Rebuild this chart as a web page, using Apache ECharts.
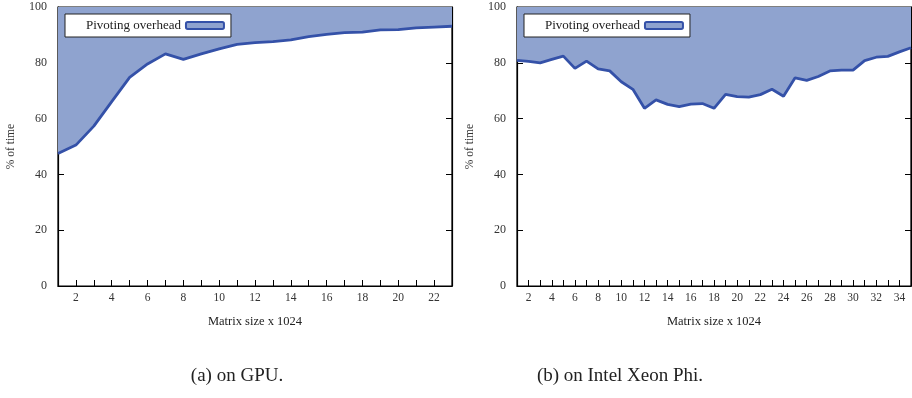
<!DOCTYPE html>
<html>
<head>
<meta charset="utf-8">
<script src="https://cdn.jsdelivr.net/npm/echarts@6/dist/echarts.min.js"></script>
<style>
  html, body { margin: 0; padding: 0; background: #fff; }
  #chart { width: 912px; height: 398px; }
</style>
</head>
<body>
<div id="chart"></div>
<script>
// matrix sizes (x 1024)
const gpuSizes = [1,2,3,4,5,6,7,8,9,10,11,12,13,14,15,16,17,18,19,20,21,22,23];
const gpuOverhead = [47.5,50.5,57.3,66.1,74.8,79.6,83.2,81.2,83.2,85.0,86.6,87.2,87.6,88.2,89.4,90.2,90.8,91.0,91.8,91.9,92.5,92.8,93.1];

const phiSizes = [1,2,3,4,5,6,7,8,9,10,11,12,13,14,15,16,17,18,19,20,21,22,23,24,25,26,27,28,29,30,31,32,33,34,35];
const phiOverhead = [80.9,80.5,80.0,81.2,82.4,78.0,80.6,77.8,77.1,73.2,70.5,63.7,66.7,65.1,64.3,65.2,65.4,63.7,68.7,67.9,67.7,68.6,70.5,68.0,74.6,73.7,75.1,77.1,77.4,77.4,80.8,82.0,82.3,83.9,85.4];

const yTicks = [0, 20, 40, 60, 80, 100];
const seriesName = 'Pivoting overhead';
const captions = ['(a) on GPU.', '(b) on Intel Xeon Phi.'];

const lineColor = '#3451a8';
const fillColor = '#8fa3cf';
const serif = 'Liberation Serif';

function pairs(xs, ys) { return xs.map((x, i) => [x, ys[i]]); }

function xAxisFor(idx, maxX) {
  return {
    type: 'value', gridIndex: idx, min: 1, max: maxX, interval: 1,
    name: 'Matrix size x 1024', nameLocation: 'middle', nameGap: 29,
    nameTextStyle: { fontFamily: serif, fontSize: 12.5, color: '#222' },
    axisLine: { show: true, onZero: false, lineStyle: { color: '#000', width: 1.2 } },
    axisTick: { show: true, inside: true, length: 6, lineStyle: { color: '#000', width: 1 } },
    axisLabel: { margin: 6, fontFamily: serif, fontSize: 11.5, color: '#333',
      formatter: v => (v % 2 === 0 ? String(v) : '') },
    splitLine: { show: false }
  };
}

function yAxisFor(idx, pos) {
  const left = pos === 'left';
  return {
    type: 'value', gridIndex: idx, position: pos, min: yTicks[0], max: yTicks[yTicks.length - 1], interval: 20,
    name: left ? '% of time' : '', nameLocation: 'middle', nameGap: 41,
    nameTextStyle: { fontFamily: serif, fontSize: 11.5, color: '#333' },
    axisLine: { show: true, lineStyle: { color: '#000', width: 1.2 } },
    axisTick: { show: true, inside: true, length: 6, lineStyle: { color: '#000', width: 1 } },
    axisLabel: { show: left, margin: 11, fontFamily: serif, fontSize: 12, color: '#333' },
    splitLine: { show: false }
  };
}

function legendFor(left) {
  return {
    left: left, top: 14, orient: 'horizontal', align: 'right',
    backgroundColor: '#fff', borderColor: '#222', borderWidth: 1,
    padding: [5, 6, 5, 21], itemWidth: 38, itemHeight: 7,
    textStyle: { fontFamily: serif, fontSize: 13, color: '#222' },
    data: [{ name: seriesName, icon: 'roundRect',
      itemStyle: { color: fillColor, borderColor: lineColor, borderWidth: 2 } }]
  };
}

function seriesFor(idx, data) {
  return {
    name: seriesName, type: 'line', xAxisIndex: idx, yAxisIndex: idx * 2,
    data: data, symbol: 'none', smooth: false,
    lineStyle: { color: lineColor, width: 2.8 },
    itemStyle: { color: lineColor },
    areaStyle: { origin: 'end', color: fillColor, opacity: 1 },
    z: 3
  };
}

function gridAt(left) {
  return {
    left: left, top: 7, width: 394, height: 279,
    containLabel: false, outerBoundsMode: 'none',
    show: true, borderColor: '#000', borderWidth: 1.2, backgroundColor: 'transparent'
  };
}

const chart = echarts.init(document.getElementById('chart'), null, { renderer: 'canvas' });
chart.setOption({
  animation: false,
  backgroundColor: '#fff',
  grid: [gridAt(58), gridAt(517)],
  xAxis: [xAxisFor(0, gpuSizes[gpuSizes.length - 1]), xAxisFor(1, phiSizes[phiSizes.length - 1])],
  yAxis: [yAxisFor(0, 'left'), yAxisFor(0, 'right'), yAxisFor(1, 'left'), yAxisFor(1, 'right')],
  legend: [legendFor(65), legendFor(524)],
  title: [
    { text: captions[0], left: 232, top: 362, textAlign: 'center',
      textStyle: { fontFamily: serif, fontSize: 19, fontWeight: 'normal', color: '#222' } },
    { text: captions[1], left: 615, top: 362, textAlign: 'center',
      textStyle: { fontFamily: serif, fontSize: 19, fontWeight: 'normal', color: '#222' } }
  ],
  series: [
    seriesFor(0, pairs(gpuSizes, gpuOverhead)),
    seriesFor(1, pairs(phiSizes, phiOverhead))
  ]
});
</script>
</body>
</html>
